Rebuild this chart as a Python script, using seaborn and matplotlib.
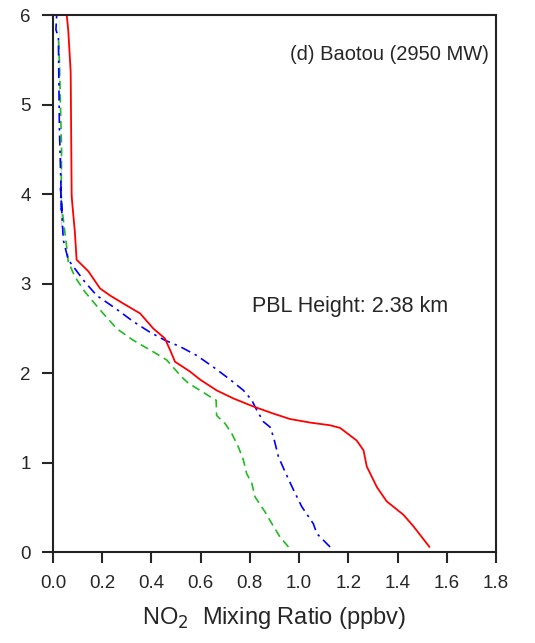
import matplotlib
matplotlib.use("Agg")
import matplotlib.pyplot as plt
import seaborn as sns
import numpy as np

sns.set_style("ticks")
plt.rcParams['font.family'] = ['Liberation Sans', 'DejaVu Sans']

# altitude (km) and NO2 mixing ratio (ppbv)
red_x = [1.53, 1.465, 1.424, 1.356, 1.316, 1.275, 1.262, 1.234, 1.167, 1.126, 1.045,
         0.963, 0.896, 0.814, 0.733, 0.665, 0.598, 0.557, 0.496, 0.476, 0.455, 0.408,
         0.354, 0.286, 0.232, 0.191, 0.144, 0.096, 0.089, 0.076, 0.076, 0.072, 0.062, 0.056]
red_y = [0.06, 0.29, 0.42, 0.57, 0.73, 0.96, 1.14, 1.25, 1.39, 1.42, 1.45,
         1.49, 1.55, 1.63, 1.72, 1.81, 1.93, 2.02, 2.13, 2.26, 2.39, 2.50,
         2.67, 2.78, 2.87, 2.95, 3.14, 3.27, 3.58, 3.94, 4.01, 5.37, 5.84, 6.0]

blue_x = [1.126, 1.072, 1.058, 1.011, 0.977, 0.943, 0.916, 0.896, 0.882, 0.855, 0.828,
          0.808, 0.774, 0.72, 0.652, 0.584, 0.516, 0.455, 0.394, 0.326, 0.252, 0.178,
          0.130, 0.089, 0.062, 0.042, 0.031, 0.035, 0.031, 0.026, 0.022, 0.012, 0.015]
blue_y = [0.06, 0.21, 0.32, 0.51, 0.70, 0.90, 1.07, 1.29, 1.40, 1.46, 1.59,
          1.70, 1.81, 1.93, 2.07, 2.20, 2.30, 2.37, 2.46, 2.58, 2.73, 2.87,
          3.02, 3.17, 3.27, 3.49, 3.64, 3.82, 4.50, 4.76, 5.76, 5.84, 6.0]

green_x = [0.957, 0.923, 0.896, 0.862, 0.821, 0.808, 0.787, 0.774, 0.753, 0.726, 0.699,
           0.665, 0.663, 0.638, 0.598, 0.55, 0.523, 0.462, 0.408, 0.326, 0.259, 0.191,
           0.130, 0.089, 0.062, 0.056, 0.049, 0.039, 0.033, 0.035, 0.026, 0.022, 0.026]
green_y = [0.06, 0.17, 0.29, 0.45, 0.62, 0.77, 0.88, 1.03, 1.18, 1.33, 1.44,
           1.53, 1.70, 1.74, 1.81, 1.89, 1.96, 2.15, 2.24, 2.37, 2.50, 2.71,
           2.91, 3.08, 3.25, 3.41, 3.56, 3.79, 4.01, 4.50, 5.05, 5.76, 5.95]

fig = plt.figure(figsize=(5.35, 6.43), dpi=100)
ax = fig.add_axes([0.099, 0.141, 0.828, 0.835])

sns.lineplot(x=green_x, y=green_y, sort=False, ax=ax, color='#22bb22', lw=1.2,
             linestyle=(0, (5, 3)))
sns.lineplot(x=blue_x, y=blue_y, sort=False, ax=ax, color='#0000ff', lw=1.2,
             linestyle=(0, (6, 3, 1.5, 3)))
sns.lineplot(x=red_x, y=red_y, sort=False, ax=ax, color='#ff0000', lw=1.3)

ax.set_xlim(0, 1.8)
ax.set_ylim(0, 6)
ax.set_xticks(np.arange(0, 1.81, 0.2))
ax.set_xticklabels(['%.1f' % v for v in np.arange(0, 1.81, 0.2)])
ax.set_yticks(range(0, 7))
ax.tick_params(direction='out', length=8, width=1.5, labelsize=13.5, pad=8)
for s in ax.spines.values():
    s.set_linewidth(1.5)
    s.set_color('#222222')

ax.text(1.77, 5.56, '(d) Baotou (2950 MW)', ha='right', va='center', fontsize=14.5)
ax.text(0.81, 2.75, 'PBL Height: 2.38 km', ha='left', va='center', fontsize=15.5)
ax.set_xlabel('NO$_2$  Mixing Ratio (ppbv)', fontsize=17, labelpad=10)
ax.set_ylabel('')

plt.savefig('out.png', dpi=100)
